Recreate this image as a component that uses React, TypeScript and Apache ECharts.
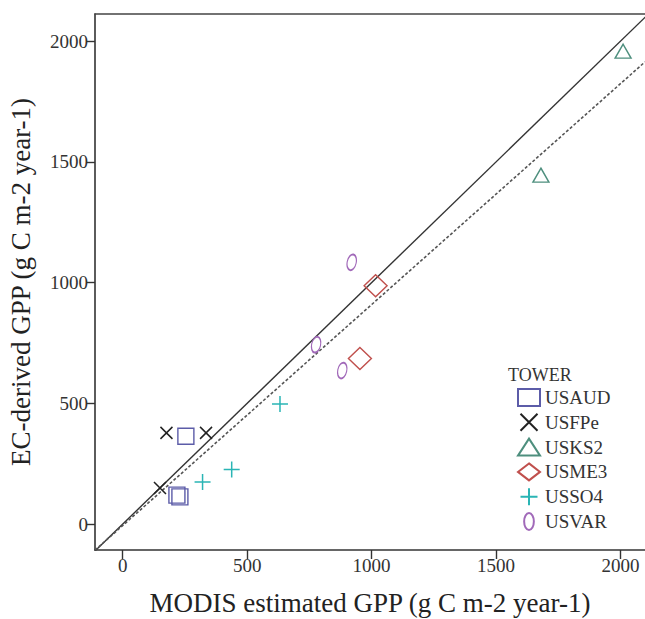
import React, { useEffect, useRef } from "react";
import * as echarts from "echarts";

const towers = ["USAUD", "USFPe", "USKS2", "USME3", "USSO4", "USVAR"];
const usaud = [[254, 364], [218, 120], [230, 113]];
const usfpe = [[176, 378], [335, 378], [150, 150]];
const usks2 = [[2010, 1958], [1680, 1445]];
const usme3 = [[1016, 987], [953, 686]];
const usso4 = [[321, 175], [438, 226], [632, 497]];
const usvar = [[920, 1084], [777, 743], [882, 636]];
const tickValues = [0, 500, 1000, 1500, 2000];
const xRange = [-111, 2098];
const yRange = [-107, 2112];
const fitSlope = 0.915;
const fitIntercept = -6;

const FONT = "Liberation Serif";

export default function App() {
  const ref = useRef<HTMLDivElement>(null);
  useEffect(() => {
    if (!ref.current) return;
    const chart = echarts.init(ref.current, null, { renderer: "svg" });
    const clear = "rgba(0,0,0,0)";
    const mk = (name: string, data: number[][], symbol: string, size: any, color: string, bw = 1.4, rot = 0) => ({
      name,
      type: "scatter",
      data,
      symbol,
      symbolSize: size,
      symbolRotate: rot,
      itemStyle: { color: clear, borderColor: color, borderWidth: bw, opacity: 1 },
      z: 5,
    });
    const axisCommon = {
      type: "value",
      splitLine: { show: false },
      axisLine: { show: true, onZero: false, lineStyle: { color: "#333", width: 1.6 } },
      axisTick: { show: true, inside: false, length: 9, customValues: tickValues, lineStyle: { color: "#333", width: 1.4 } },
      axisLabel: { customValues: tickValues, fontFamily: FONT, fontSize: 19, color: "#333", margin: 6, formatter: (v: number) => String(v) },
      nameLocation: "middle",
      nameTextStyle: { fontFamily: FONT, fontSize: 27, color: "#222" },
    };
    chart.setOption({
      animation: false,
      grid: { left: 95, top: 14, right: 0, bottom: 69, outerBoundsMode: "none", containLabel: false },
      xAxis: [
        { ...axisCommon, min: xRange[0], max: xRange[1], name: "MODIS estimated GPP (g C m-2 year-1)", nameGap: 39 },
        { type: "value", position: "top", min: xRange[0], max: xRange[1], axisLine: { show: true, onZero: false, lineStyle: { color: "#444", width: 1.6 } }, axisTick: { show: false }, axisLabel: { show: false }, splitLine: { show: false } },
      ],
      yAxis: { ...axisCommon, min: yRange[0], max: yRange[1], name: "EC-derived GPP (g C m-2 year-1)", nameGap: 61, axisLabel: { ...axisCommon.axisLabel, margin: 7 } },
      legend: {
        data: towers,
        orient: "vertical",
        left: 512,
        top: 383,
        itemWidth: 22,
        itemHeight: 17,
        itemGap: 5.8,
        textStyle: { fontFamily: FONT, fontSize: 19, color: "#333" },
      },
      graphic: [
        { type: "text", left: 508, top: 366, style: { text: "TOWER", fontFamily: FONT, fontSize: 18, fill: "#333" } },
      ],
      series: [
        {
          type: "line",
          data: [[xRange[0], xRange[0]], [yRange[1] + 50, yRange[1] + 50]],
          symbol: "none",
          lineStyle: { color: "#333", width: 1.4 },
          clip: true,
          z: 2,
        },
        {
          type: "line",
          data: [[xRange[0], fitIntercept + fitSlope * xRange[0]], [xRange[1], fitIntercept + fitSlope * xRange[1]]],
          symbol: "none",
          lineStyle: { color: "#555", width: 1.6, type: [3, 2] },
          clip: true,
          z: 2,
        },
        mk("USAUD", usaud, "rect", 16, "#5c5ca8"),
        mk("USFPe", usfpe, "path://M0,0L10,10M10,0L0,10", 12, "#222", 1.5),
        mk("USKS2", usks2, "triangle", [16, 14], "#4e8f7e"),
        mk("USME3", usme3, "diamond", [23, 22], "#c0504d"),
        mk("USSO4", usso4, "path://M5,0L5,10M0,5L10,5", 16, "#2ab5b5", 1.5),
        mk("USVAR", usvar, "path://M4,0A4,7 0 1,1 4,14A4,7 0 1,1 4,0Z", [9, 16], "#a169b9", 1.5, -12),
      ],
    });
    return () => chart.dispose();
  }, []);
  return <div ref={ref} style={{ width: 645, height: 619, position: "absolute", left: 0, top: 0 }} />;
}
